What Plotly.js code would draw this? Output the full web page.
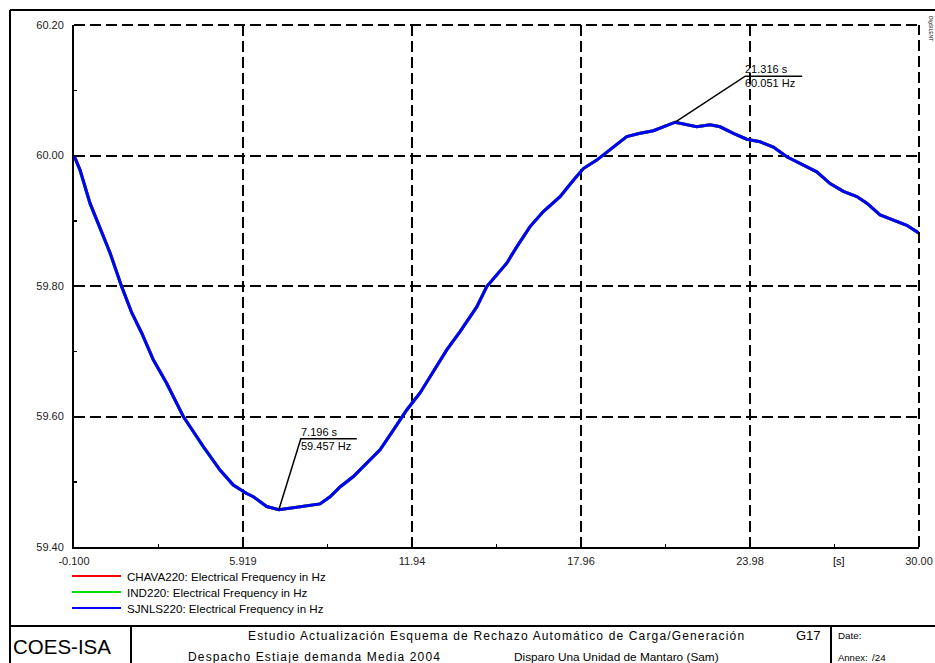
<!DOCTYPE html>
<html><head><meta charset="utf-8">
<script src="https://cdn.plot.ly/plotly-3.0.1.min.js"></script>
<style>html,body{margin:0;padding:0;background:#fff;}</style>
</head><body>
<div id="chart" style="width:935px;height:663px;"></div>
<script>
// ---------- data ----------
const timeS = [-0.1, 0.114, 0.470, 0.826, 1.183, 1.599, 1.956, 2.312, 2.725, 3.202, 3.794, 4.506, 5.101, 5.575, 6.052, 6.288, 6.765, 7.196, 7.713, 8.190, 8.664, 9.020, 9.376, 9.850, 10.327, 10.801, 11.275, 11.752, 12.226, 12.583, 13.178, 13.651, 14.246, 14.603, 14.959, 15.315, 15.671, 16.145, 16.619, 17.214, 17.688, 18.044, 18.521, 19.113, 19.590, 20.064, 20.538, 21.316, 21.728, 22.084, 22.558, 22.914, 23.388, 23.865, 24.339, 24.813, 25.290, 25.764, 26.359, 26.833, 27.307, 27.784, 28.140, 28.614, 29.088, 29.565, 30.000];
const freqCHAVA220 = [60.000, 59.978, 59.927, 59.890, 59.851, 59.799, 59.759, 59.728, 59.687, 59.651, 59.600, 59.554, 59.518, 59.495, 59.482, 59.477, 59.462, 59.457, 59.460, 59.463, 59.466, 59.477, 59.492, 59.508, 59.528, 59.549, 59.579, 59.610, 59.636, 59.661, 59.702, 59.730, 59.768, 59.799, 59.817, 59.835, 59.860, 59.891, 59.914, 59.937, 59.962, 59.980, 59.993, 60.013, 60.029, 60.034, 60.038, 60.051, 60.047, 60.044, 60.047, 60.044, 60.034, 60.025, 60.021, 60.013, 59.998, 59.988, 59.975, 59.957, 59.945, 59.937, 59.927, 59.909, 59.901, 59.893, 59.881];
const freqIND220 = [60.000, 59.977, 59.926, 59.889, 59.850, 59.799, 59.759, 59.727, 59.687, 59.650, 59.600, 59.553, 59.518, 59.495, 59.482, 59.477, 59.462, 59.457, 59.460, 59.463, 59.466, 59.477, 59.492, 59.508, 59.528, 59.549, 59.579, 59.610, 59.636, 59.661, 59.702, 59.730, 59.768, 59.799, 59.817, 59.835, 59.860, 59.891, 59.914, 59.937, 59.962, 59.980, 59.993, 60.013, 60.029, 60.034, 60.038, 60.051, 60.047, 60.044, 60.047, 60.044, 60.034, 60.025, 60.021, 60.013, 59.998, 59.988, 59.975, 59.957, 59.945, 59.937, 59.927, 59.909, 59.901, 59.893, 59.881];
const freqSJNLS220 = [60.000, 59.978, 59.927, 59.890, 59.851, 59.799, 59.759, 59.728, 59.687, 59.651, 59.600, 59.554, 59.518, 59.495, 59.482, 59.477, 59.462, 59.457, 59.460, 59.463, 59.466, 59.477, 59.492, 59.508, 59.528, 59.549, 59.579, 59.610, 59.636, 59.661, 59.702, 59.730, 59.768, 59.799, 59.817, 59.835, 59.860, 59.891, 59.914, 59.937, 59.962, 59.980, 59.993, 60.013, 60.029, 60.034, 60.038, 60.051, 60.047, 60.044, 60.047, 60.044, 60.034, 60.025, 60.021, 60.013, 59.998, 59.988, 59.975, 59.957, 59.945, 59.937, 59.927, 59.909, 59.901, 59.893, 59.881];

const seriesNames = ["CHAVA220: Electrical Frequency in Hz", "IND220: Electrical Frequency in Hz", "SJNLS220: Electrical Frequency in Hz"];
const seriesColors = ["#ff0000", "#00e000", "#0000ff"];

const xTickVals = [-0.1, 5.919, 11.94, 17.96, 23.98, 30.0];
const xTickText = ["-0.100", "5.919", "11.94", "17.96", "23.98", "30.00"];
const yTickVals = [59.4, 59.6, 59.8, 60.0, 60.2];
const yTickText = ["59.40", "59.60", "59.80", "60.00", "60.20"];
const xRange = [-0.1, 30.0];
const yRange = [59.4, 60.2];

const markerT = [7.196, 21.316];
const markerF = [59.457, 60.051];
const markerLabelT = ["7.196 s", "21.316 s"];
const markerLabelF = ["59.457 Hz", "60.051 Hz"];

const titleLine1 = "Estudio Actualización Esquema de Rechazo Automático de Carga/Generación";
const titleLine2a = "Despacho Estiaje demanda Media 2004";
const titleLine2b = "Disparo Una Unidad de Mantaro (Sam)";

// ---------- layout helpers (pixel -> paper) ----------
const PL = 74, PR = 919, PT = 25, PB = 547, W = 935, H = 663;
const PX = x => (x - PL) / (PR - PL);
const PY = y => (PB - y) / (PB - PT);
const pxPerT = (PR - PL) / (xRange[1] - xRange[0]);
const pxPerF = (PB - PT) / (yRange[1] - yRange[0]);

const FONT = "Liberation Sans, Arial, sans-serif";
const spaced = s => '<span style="letter-spacing:1.15px">' + s + '</span>';

const traces = [freqCHAVA220, freqIND220, freqSJNLS220].map((f, i) => ({
  type: "scatter", mode: "lines", x: timeS, y: f, name: seriesNames[i],
  line: {color: seriesColors[i], width: 3}, showlegend: false, hoverinfo: "skip"
}));

const shapes = [];
const annotations = [];
const line = (x0, y0, x1, y1, w) => shapes.push({type: "line", xref: "paper", yref: "paper",
  x0: PX(x0), y0: PY(y0), x1: PX(x1), y1: PY(y1), line: {color: "#000", width: w || 2}});
const txt = (text, x, y, opts) => annotations.push(Object.assign({text: text, xref: "paper", yref: "paper",
  x: PX(x), y: PY(y), xanchor: "left", yanchor: "middle", showarrow: false, borderpad: 0,
  font: {family: FONT, size: 11, color: "#000"}}, opts || {}));

// outer frame and title block
line(10, 10, 935, 10);
line(10, 10, 10, 663);
line(10, 626, 935, 626);
line(131, 626, 131, 663);
line(831, 626, 831, 663);

// legend
const legendY = [576, 592, 608];
seriesNames.forEach((n, i) => {
  shapes.push({type: "line", xref: "paper", yref: "paper", x0: PX(72), x1: PX(121), y0: PY(legendY[i]), y1: PY(legendY[i]),
    line: {color: seriesColors[i], width: 2}});
  txt(n, 126, legendY[i], {font: {family: FONT, size: 11.6, color: "#000"}});
});

// [s] unit label
txt("[s]", 839, 561, {xanchor: "center"});

// title block text
txt("COES-ISA", 12, 646, {font: {family: FONT, size: 20.5, color: "#000"}});
txt(spaced(titleLine1), 496, 636, {xanchor: "center", font: {family: FONT, size: 12, color: "#000"}});
txt("G17", 795, 636, {font: {family: FONT, size: 13, color: "#000"}});
txt(spaced(titleLine2a), 187, 657, {font: {family: FONT, size: 12, color: "#000"}});
txt(titleLine2b, 513, 657, {font: {family: FONT, size: 11.8, color: "#000"}});
txt("Date:", 837, 636, {font: {family: FONT, size: 9.8, color: "#000"}});
txt("Annex:", 837, 657, {font: {family: FONT, size: 9.5, color: "#000"}});
txt("/24", 871, 657, {font: {family: FONT, size: 9.8, color: "#000"}});
txt("DIgSILENT", 931, 28, {xanchor: "center", textangle: 90, font: {family: FONT, size: 5, color: "#000"}});

// marker labels (pixel offsets of the leader line)
const leaderDX = [22, 70], leaderDY = [-71, -46], leaderLen = [56, 57];
markerT.forEach((t, i) => {
  const f = markerF[i];
  const ct = t + leaderDX[i] / pxPerT, cf = f - leaderDY[i] / pxPerF;
  const et = ct + leaderLen[i] / pxPerT;
  shapes.push({type: "path", xref: "x", yref: "y", path: `M${t},${f} L${ct},${cf} L${et},${cf}`,
    line: {color: "#000", width: 1.5}});
  annotations.push({xref: "x", yref: "y", x: ct, y: cf, text: markerLabelT[i], showarrow: false, borderpad: 0,
    xanchor: "left", yanchor: "bottom", xshift: -1, yshift: 0, font: {family: FONT, size: 11, color: "#000"}});
  annotations.push({xref: "x", yref: "y", x: ct, y: cf, text: markerLabelF[i], showarrow: false, borderpad: 0,
    xanchor: "left", yanchor: "top", xshift: -1, yshift: 0, font: {family: FONT, size: 11, color: "#000"}});
});

// dashed top and right border of plot
shapes.push({type: "line", xref: "paper", yref: "paper", x0: 0, x1: 1, y0: 1, y1: 1, line: {color: "#000", width: 2, dash: "11px,5px"}});
shapes.push({type: "line", xref: "paper", yref: "paper", x0: 1, x1: 1, y0: 0, y1: 1, line: {color: "#000", width: 2, dash: "11px,5px"}});

const axisCommon = {
  showline: true, linecolor: "#000", linewidth: 2, mirror: false,
  ticks: "inside", ticklen: 4, tickwidth: 1.5, tickcolor: "#000",
  showgrid: true, gridcolor: "#000", gridwidth: 2, griddash: "11px,5px",
  zeroline: false, fixedrange: true,
  tickfont: {family: FONT, size: 11, color: "#222"}
};

const layout = {
  width: W, height: H,
  margin: {l: PL, r: W - PR, t: PT, b: H - PB, pad: 0},
  paper_bgcolor: "#fff", plot_bgcolor: "#fff",
  showlegend: false,
  xaxis: Object.assign({}, axisCommon, {
    range: xRange, tickmode: "array", tickvals: xTickVals, ticktext: xTickText, ticklabelstandoff: 3,
    minor: {tickmode: "linear", tick0: xRange[0], dtick: (xRange[1] - xRange[0]) / 10, ticks: "inside", ticklen: 3, tickwidth: 1.5, tickcolor: "#000", showgrid: false}
  }),
  yaxis: Object.assign({}, axisCommon, {
    range: yRange, tickmode: "array", tickvals: yTickVals, ticktext: yTickText, ticklabelstandoff: 6,
    minor: {tickmode: "linear", tick0: yRange[0], dtick: 0.1, ticks: "inside", ticklen: 3, tickwidth: 1.5, tickcolor: "#000", showgrid: false}
  }),
  shapes: shapes,
  annotations: annotations
};

Plotly.newPlot("chart", traces, layout, {displayModeBar: false, staticPlot: true});
</script>
</body></html>
